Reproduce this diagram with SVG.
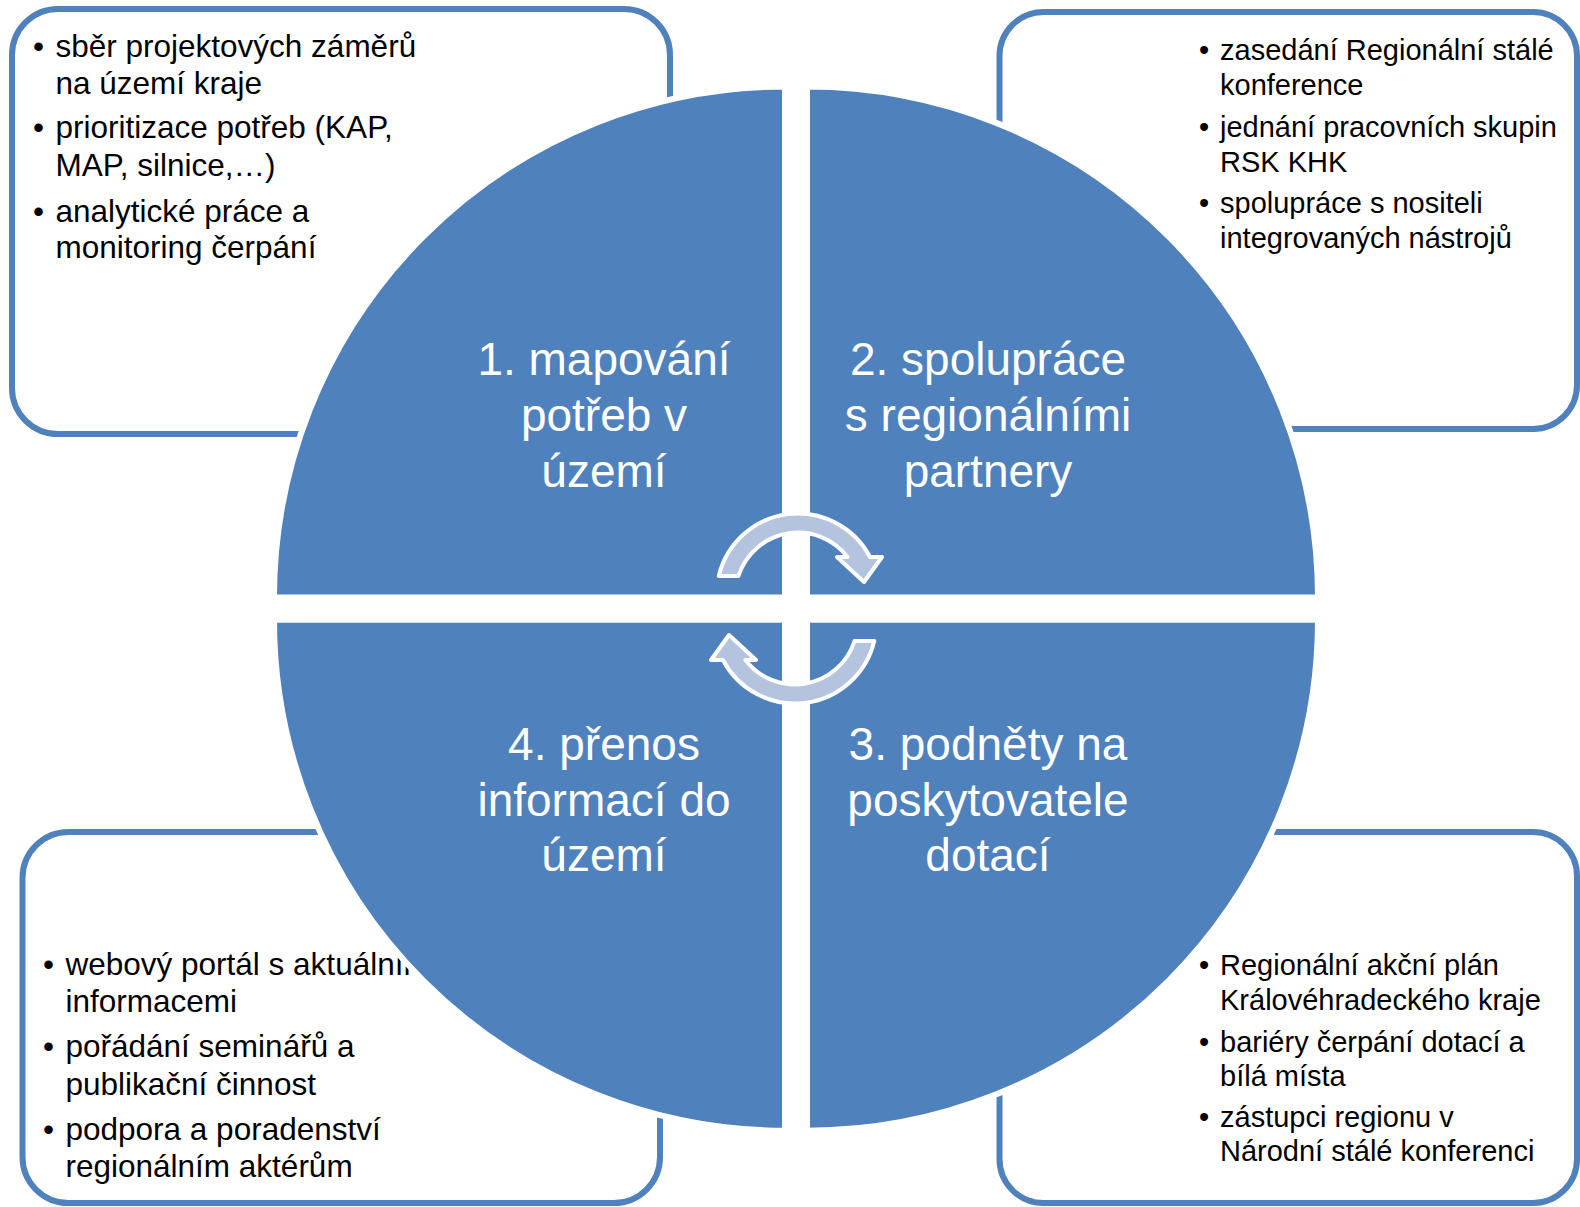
<svg xmlns="http://www.w3.org/2000/svg" width="1580" height="1207" viewBox="0 0 1580 1207">
<style>
.box{fill:#ffffff;stroke:#4F81BD;stroke-width:6}
.btxt{font-family:"Liberation Sans",Arial,sans-serif;fill:#000000}
.s31{font-size:31.5px}
.s29{font-size:29px}
.quad{fill:#4F81BD;stroke:#ffffff;stroke-width:6;stroke-linejoin:miter}
.qtxt{font-family:"Liberation Sans",Arial,sans-serif;font-size:46px;fill:#ffffff;text-anchor:middle}
.arrow{fill:#B4C4DF;stroke:#ffffff;stroke-width:4;stroke-linejoin:round}
</style>
<rect x="0" y="0" width="1580" height="1207" fill="#ffffff"/>

<g id="box-tl">
<rect class="box" x="12" y="9" width="658" height="425" rx="46" ry="46"/>
<g class="btxt s31">
<text x="33" y="56.5">•</text><text x="55.5" y="56.5">sběr projektových záměrů</text>
<text x="55.5" y="93.5">na území kraje</text>
<text x="33" y="138">•</text><text x="55.5" y="138">prioritizace potřeb (KAP,</text>
<text x="55.5" y="175.5">MAP, silnice,…)</text>
<text x="33" y="221.5">•</text><text x="55.5" y="221.5">analytické práce a</text>
<text x="55.5" y="258">monitoring čerpání</text>
</g>
</g>

<g id="box-tr">
<rect class="box" x="999.5" y="12" width="577.5" height="417" rx="44" ry="44"/>
<g class="btxt s29">
<text x="1199" y="60">•</text><text x="1220" y="60">zasedání Regionální stálé</text>
<text x="1220" y="95">konference</text>
<text x="1199" y="136.5">•</text><text x="1220" y="136.5">jednání pracovních skupin</text>
<text x="1220" y="171.5">RSK KHK</text>
<text x="1199" y="213">•</text><text x="1220" y="213">spolupráce s nositeli</text>
<text x="1220" y="248">integrovaných nástrojů</text>
</g>
</g>

<g id="box-bl">
<rect class="box" x="22.5" y="832" width="637.5" height="371" rx="46" ry="46"/>
<g class="btxt s31">
<text x="43" y="974.5">•</text><text x="65.5" y="974.5">webový portál s aktuálními</text>
<text x="65.5" y="1011.5">informacemi</text>
<text x="43" y="1057">•</text><text x="65.5" y="1057">pořádání seminářů a</text>
<text x="65.5" y="1095">publikační činnost</text>
<text x="43" y="1139.5">•</text><text x="65.5" y="1139.5">podpora a poradenství</text>
<text x="65.5" y="1177">regionálním aktérům</text>
</g>
</g>

<g id="box-br">
<rect class="box" x="999.5" y="832" width="577.5" height="371" rx="44" ry="44"/>
<g class="btxt s29">
<text x="1199" y="975">•</text><text x="1220" y="975">Regionální akční plán</text>
<text x="1220" y="1010">Královéhradeckého kraje</text>
<text x="1199" y="1051.5">•</text><text x="1220" y="1051.5">bariéry čerpání dotací a</text>
<text x="1220" y="1085.5">bílá místa</text>
<text x="1199" y="1127">•</text><text x="1220" y="1127">zástupci regionu v</text>
<text x="1220" y="1161">Národní stálé konferenci</text>
</g>
</g>

<g id="quad-1">
<path class="quad" d="M785 597.5 L274 597.5 A511 511 0 0 1 785 86.5 Z"/>
<text class="qtxt" x="604" y="375">1. mapování</text>
<text class="qtxt" x="604" y="431">potřeb v</text>
<text class="qtxt" x="604" y="486.5">území</text>
</g>

<g id="quad-2">
<path class="quad" d="M807 597.5 L807 86.5 A511 511 0 0 1 1318 597.5 Z"/>
<text class="qtxt" x="988" y="375">2. spolupráce</text>
<text class="qtxt" x="988" y="431">s regionálními</text>
<text class="qtxt" x="988" y="486.5">partnery</text>
</g>

<g id="quad-3">
<path class="quad" d="M807 619.7 L1318 619.7 A511 511 0 0 1 807 1130.7 Z"/>
<text class="qtxt" x="988" y="760">3. podněty na</text>
<text class="qtxt" x="988" y="816">poskytovatele</text>
<text class="qtxt" x="988" y="870.5">dotací</text>
</g>

<g id="quad-4">
<path class="quad" d="M785 619.7 L785 1130.7 A511 511 0 0 1 274 619.7 Z"/>
<text class="qtxt" x="604" y="760">4. přenos</text>
<text class="qtxt" x="604" y="816">informací do</text>
<text class="qtxt" x="604" y="870.5">území</text>
</g>

<g id="connectors">
<path id="arrow-top" class="arrow" d="M718.75 576 A81.5 81.5 0 0 1 870.1 557 L882 557 L864 582 L837 557 L847.6 557 A62.5 62.5 0 0 0 738.46 576 Z"/>
<path id="arrow-bottom" class="arrow" transform="rotate(180 796.5 608.5)" d="M718.75 576 A81.5 81.5 0 0 1 870.1 557 L882 557 L864 582 L837 557 L847.6 557 A62.5 62.5 0 0 0 738.46 576 Z"/>
</g>
</svg>
